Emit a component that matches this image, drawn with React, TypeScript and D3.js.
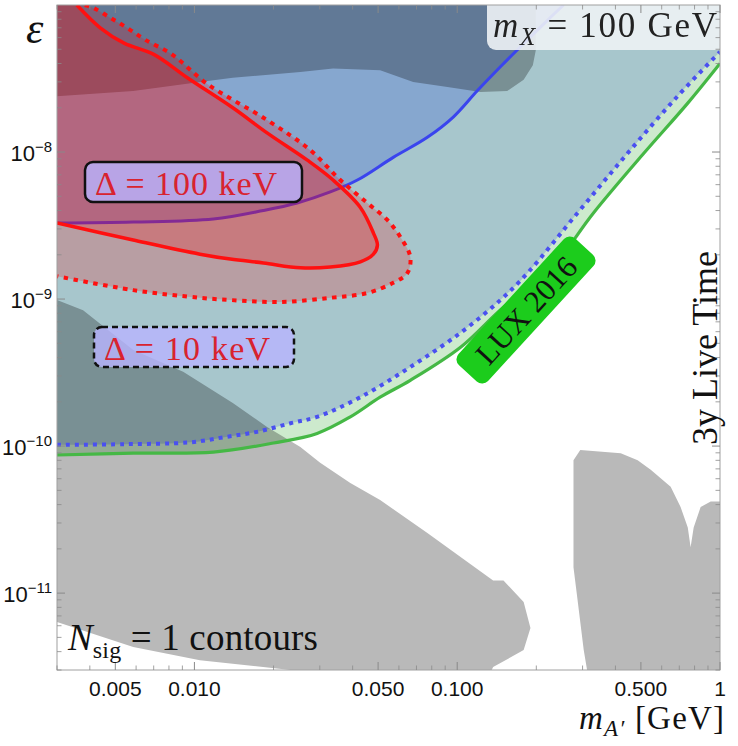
import * as d3 from "d3";

type Pt = [number, number];

// Boundaries in the (m_A' [GeV], epsilon) plane
const redSolid: Pt[] = [
  [0.00357, 1.0e-7], [0.00438, 7.0e-8], [0.0054, 5.5e-8], [0.00703, 4.6e-8],
  [0.0094, 3.2e-8], [0.014, 2.0e-8], [0.0189, 1.35e-8], [0.0269, 8.8e-9],
  [0.0337, 6.45e-9], [0.0428, 4.2e-9], [0.048, 2.81e-9], [0.0497, 2.33e-9],
  [0.048, 2.02e-9], [0.0428, 1.79e-9], [0.0329, 1.65e-9], [0.0253, 1.63e-9],
  [0.0183, 1.76e-9], [0.0137, 1.87e-9], [0.0105, 2.02e-9], [0.00585, 2.52e-9],
  [0.003, 3.29e-9],
];

const redDotted: Pt[] = [
  [0.00383, 1.0e-7], [0.00415, 9.5e-8], [0.00478, 8.2e-8], [0.00554, 7.0e-8],
  [0.0065, 5.8e-8], [0.00823, 4.6e-8], [0.0112, 2.9e-8], [0.0189, 1.65e-8],
  [0.0276, 1.03e-8], [0.0359, 6.45e-9], [0.0455, 4.5e-9], [0.0542, 3.45e-9],
  [0.0608, 2.64e-9], [0.0663, 1.93e-9], [0.0646, 1.5e-9], [0.0571, 1.29e-9],
  [0.0455, 1.1e-9], [0.0329, 1.02e-9], [0.0212, 9.55e-10], [0.0137, 9.85e-10],
  [0.0105, 1.02e-9], [0.00585, 1.15e-9], [0.003, 1.43e-9],
];

const blueSolid: Pt[] = [
  [0.003, 3.29e-9], [0.00585, 3.34e-9], [0.0118, 3.5e-9], [0.0183, 4.0e-9],
  [0.0246, 4.5e-9], [0.0329, 5.35e-9], [0.0417, 6.45e-9], [0.0571, 9.2e-9],
  [0.077, 1.26e-8], [0.0966, 1.73e-8], [0.119, 2.6e-8], [0.146, 3.8e-8],
  [0.174, 5.2e-8], [0.221, 7.9e-8], [0.254, 1.0e-7],
];

const blueDotted: Pt[] = [
  [0.003, 1.02e-10], [0.0054, 1.03e-10], [0.0096, 1.06e-10], [0.013, 1.15e-10],
  [0.0173, 1.25e-10], [0.0232, 1.43e-10], [0.0293, 1.58e-10], [0.0428, 2.15e-10],
  [0.0663, 3.45e-10], [0.103, 5.9e-10], [0.146, 9.85e-10], [0.185, 1.5e-9],
  [0.287, 3.85e-9], [0.445, 9.8e-9], [0.69, 2.4e-8], [1.0, 4.8e-8],
];

const luxGreen: Pt[] = [
  [0.003, 8.7e-11], [0.00585, 8.95e-11], [0.0118, 9.1e-11], [0.02, 1.05e-10],
  [0.0293, 1.22e-10], [0.0392, 1.58e-10], [0.0509, 2.15e-10], [0.0663, 2.8e-10],
  [0.103, 4.7e-10], [0.15, 8.8e-10], [0.221, 1.5e-9], [0.33, 3.85e-9],
  [0.513, 9.8e-9], [0.754, 2.15e-8], [1.0, 4.0e-8],
];

const grayTop: Pt[] = [
  [0.003, 1.0e-7], [0.003, 2.4e-8], [0.00585, 2.6e-8], [0.0105, 3.0e-8],
  [0.014, 3.2e-8], [0.0253, 3.5e-8], [0.0337, 3.7e-8], [0.0509, 3.6e-8],
  [0.068, 3.0e-8], [0.0918, 2.77e-8], [0.1226, 2.56e-8], [0.155, 2.6e-8],
  [0.179, 3.1e-8], [0.194, 3.9e-8], [0.199, 4.9e-8], [0.199, 1.0e-7],
];

const grayLowLeft: Pt[] = [
  [0.003, 9.85e-10], [0.00377, 8.4e-10], [0.00585, 4.5e-10], [0.00906, 3.2e-10],
  [0.014, 1.96e-10], [0.0189, 1.35e-10], [0.0253, 9.85e-11], [0.0301, 7.7e-11],
  [0.0392, 5.6e-11], [0.0509, 4.3e-11], [0.077, 2.56e-11], [0.103, 1.76e-11],
  [0.137, 1.22e-11], [0.15, 1.22e-11], [0.179, 8.7e-12], [0.19, 5.8e-12],
  [0.179, 4.1e-12], [0.137, 3.14e-12], [0.134, 2.9e-12], [0.0232, 2.9e-12],
  [0.0232, 3.0e-12], [0.0105, 3.5e-12], [0.00585, 4.3e-12], [0.003, 6.35e-12],
];

const grayLowRight: Pt[] = [
  [0.277, 8.0e-11], [0.294, 9.4e-11], [0.419, 8.95e-11], [0.486, 8.0e-11],
  [0.545, 6.9e-11], [0.649, 5.3e-11], [0.708, 3.85e-11], [0.754, 2.8e-11],
  [0.773, 2.05e-11], [0.794, 2.8e-11], [0.844, 3.85e-11], [0.922, 4.2e-11],
  [1.0, 4.2e-11], [1.0, 2.9e-12], [0.313, 2.9e-12], [0.303, 4.1e-12],
  [0.287, 9.0e-12], [0.277, 1.5e-11],
];

const xTickValues = [0.005, 0.01, 0.05, 0.1, 0.5, 1];
const xTickText = ["0.005", "0.010", "0.050", "0.100", "0.500", "1"];
const yTickExponents = [-8, -9, -10, -11];

const W = 738;
const H = 746;
const L = 57, R = 720, T = 5, B = 670;

const serif = "'Liberation Serif', 'DejaVu Serif', serif";
const sans = "'Liberation Sans', Arial, sans-serif";

export default function App() {
  const x = d3.scaleLog().domain([0.003, 1]).range([L, R]);
  const y = d3.scaleLog().domain([1e-7, 3e-12]).range([T, B]);

  const curve = d3
    .line<Pt>()
    .x((d) => x(d[0]))
    .y((d) => y(d[1]))
    .curve(d3.curveCatmullRom.alpha(0.5));
  const poly = d3
    .line<Pt>()
    .x((d) => x(d[0]))
    .y((d) => y(d[1]));

  const corner = (m: number, e: number) => `L${x(m)},${y(e)}`;
  const topLeft = corner(0.003, 1e-7);
  const topRight = corner(1, 1e-7);

  const greenArea = `${curve(luxGreen)}${topRight}${topLeft}Z`;
  const tealArea = `${curve(blueDotted)}${topRight}${topLeft}Z`;
  const blueArea = `${curve(blueSolid)}${topLeft}Z`;
  const redDotArea = `${curve(redDotted)}${topLeft}Z`;
  const redSolidArea = `${curve(redSolid)}${topLeft}Z`;

  // log ticks: 1..9 per decade, majors at 1 and 5 on x, 1 on y
  const xTicks: { v: number; major: boolean }[] = [];
  for (let p = -3; p <= 0; p++) {
    for (let k = 1; k <= 9; k++) {
      const v = k * Math.pow(10, p);
      if (v >= 0.003 - 1e-9 && v <= 1 + 1e-9) xTicks.push({ v, major: k === 1 || k === 5 });
    }
  }
  const yTicks: { v: number; major: boolean }[] = [];
  for (let p = -12; p <= -8; p++) {
    for (let k = 1; k <= 9; k++) {
      const v = k * Math.pow(10, p);
      if (v >= 3e-12 * 0.999 && v <= 1e-7 * 1.001) yTicks.push({ v, major: k === 1 });
    }
  }

  const tickColor = "#8a8a8a";

  return (
    <div style={{ position: "fixed", left: 0, top: 0 }}>
      <svg width={W} height={H} style={{ display: "block", background: "#fff" }}>
        <defs>
          <clipPath id="plot-clip">
            <rect x={L} y={T} width={R - L} height={B - T} />
          </clipPath>
        </defs>

        <g clipPath="url(#plot-clip)">
          {/* excluded regions */}
          <path d={greenArea} fill="#cdeacd" />
          <path d={tealArea} fill="#a7c6cc" />
          <path d={blueArea} fill="#86a7cf" />

          {/* existing constraints */}
          <g style={{ mixBlendMode: "multiply" }}>
            <path d={poly(grayTop) + "Z"} fill="#b9b9b9" />
            <path d={poly(grayLowLeft) + "Z"} fill="#b9b9b9" />
            <path d={poly(grayLowRight) + "Z"} fill="#b9b9b9" />
          </g>

          <path d={curve(blueSolid) ?? ""} fill="none" stroke="#3a44ee" strokeWidth={3} />

          <path d={redDotArea} fill="#ff0000" fillOpacity={0.2} />
          <path d={redSolidArea} fill="#ff0000" fillOpacity={0.22} />

          <path d={curve(redSolid) ?? ""} fill="none" stroke="#ff1010" strokeWidth={3.5} />
          <path
            d={curve(redDotted) ?? ""}
            fill="none"
            stroke="#ff1010"
            strokeWidth={4}
            strokeDasharray="4.5,5.5"
          />

          <path d={curve(luxGreen) ?? ""} fill="none" stroke="#45b845" strokeWidth={3.2} />
          <path
            d={curve(blueDotted) ?? ""}
            fill="none"
            stroke="#4a50f0"
            strokeWidth={4}
            strokeDasharray="4,5"
          />

          {/* m_X label */}
          <rect x={487} y={-10} width={260} height={60} rx={9} fill="#eef2f5" fillOpacity={0.9} />
          <text
            x={493}
            y={37}
            fontFamily={serif}
            fontSize={35}
            fill="#222"
            textLength={224}
            lengthAdjust="spacing"
          >
            <tspan fontStyle="italic">m</tspan>
            <tspan fontStyle="italic" fontSize={25} dy={8}>X</tspan>
            <tspan dy={-8}> = 100 GeV</tspan>
          </text>
        </g>

        {/* frame */}
        <rect x={L} y={T} width={R - L} height={B - T} fill="none" stroke="#a0a0a0" strokeWidth={1} />
        {xTicks.map((t, i) => {
          const len = t.major ? 8 : 4.5;
          const px = x(t.v);
          return (
            <g key={"xt" + i} stroke={tickColor} strokeWidth={t.major ? 1 : 0.8}>
              <line x1={px} x2={px} y1={B} y2={B - len} />
              <line x1={px} x2={px} y1={T} y2={T + len} />
            </g>
          );
        })}
        {yTicks.map((t, i) => {
          const len = t.major ? 8 : 4.5;
          const py = y(t.v);
          return (
            <g key={"yt" + i} stroke={tickColor} strokeWidth={t.major ? 1 : 0.8}>
              <line x1={L} x2={L + len} y1={py} y2={py} />
              <line x1={R} x2={R - len} y1={py} y2={py} />
            </g>
          );
        })}

        {/* tick labels */}
        {xTickValues.map((v, i) => (
          <text
            key={"xl" + i}
            x={x(v)}
            y={696}
            textAnchor="middle"
            fontFamily={sans}
            fontSize={21}
            fill="#111"
          >
            {xTickText[i]}
          </text>
        ))}
        {yTickExponents.map((p) => (
          <text
            key={"yl" + p}
            x={52}
            y={y(Math.pow(10, p)) + 9}
            textAnchor="end"
            fontFamily={sans}
            fontSize={22}
            fill="#111"
          >
            10
            <tspan fontSize={15} dy={-9}>
              {"\u2212" + Math.abs(p)}
            </tspan>
          </text>
        ))}

        {/* axis labels */}
        <text x={26} y={43} fontFamily={serif} fontStyle="italic" fontSize={44} fill="#111">
          ε
        </text>
        <text
          x={579}
          y={729}
          fontFamily={serif}
          fontSize={33}
          fill="#111"
          textLength={145}
          lengthAdjust="spacing"
        >
          <tspan fontStyle="italic">m</tspan>
          <tspan fontStyle="italic" fontSize={23} dy={7}>A′</tspan>
          <tspan dy={-7}> [GeV]</tspan>
        </text>

        {/* contour labels */}
        <rect x={85} y={162} width={217} height={40} rx={8} fill="#b9b4ff" fillOpacity={0.8} stroke="#111" strokeWidth={2.5} />
        <text
          x={95}
          y={195}
          fontFamily={serif}
          fontSize={34}
          fill="#d8232f"
          textLength={182}
          lengthAdjust="spacing"
        >
          Δ = 100 keV
        </text>

        <rect
          x={94}
          y={327}
          width={200}
          height={40}
          rx={8}
          fill="#b9b4ff"
          fillOpacity={0.8}
          stroke="#111"
          strokeWidth={2.5}
          strokeDasharray="6,4"
        />
        <text
          x={104}
          y={360}
          fontFamily={serif}
          fontSize={34}
          fill="#d8232f"
          textLength={166}
          lengthAdjust="spacing"
        >
          Δ = 10 keV
        </text>

        <g transform="translate(526,310) rotate(-47.5)">
          <rect x={-86} y={-20} width={172} height={40} rx={8} fill="#1ccc1c" />
          <text x={0} y={11} textAnchor="middle" fontFamily={serif} fontSize={31} fill="#111">
            LUX 2016
          </text>
        </g>

        <text
          transform="translate(717,348) rotate(-90)"
          textAnchor="middle"
          fontFamily={serif}
          fontSize={36}
          fill="#111"
        >
          3y Live Time
        </text>

        <text
          x={68}
          y={650}
          fontFamily={serif}
          fontSize={37}
          fill="#111"
          textLength={250}
          lengthAdjust="spacing"
        >
          <tspan fontStyle="italic">N</tspan>
          <tspan fontSize={24} dy={8}>sig</tspan>
          <tspan dy={-8}> = 1 contours</tspan>
        </text>
      </svg>
    </div>
  );
}
